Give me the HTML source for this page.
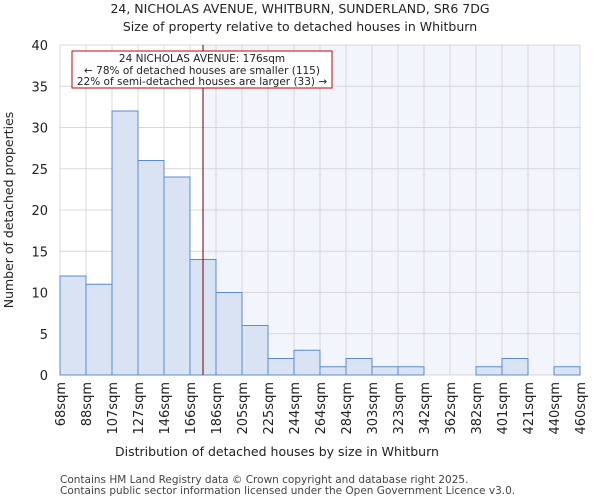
<!DOCTYPE html>
<html><head><meta charset="utf-8"><style>
body{margin:0;background:#fff;font-family:"DejaVu Sans","Liberation Sans",sans-serif}
</style></head><body>
<svg width="600" height="500" xmlns="http://www.w3.org/2000/svg" font-family="DejaVu Sans, Liberation Sans, sans-serif">
<text x="300" y="13" text-anchor="middle" font-size="12.5" fill="#222">24, NICHOLAS AVENUE, WHITBURN, SUNDERLAND, SR6 7DG</text>
<text x="300" y="31" text-anchor="middle" font-size="12.5" fill="#222">Size of property relative to detached houses in Whitburn</text>
<g id="plot"></g>
<text x="277" y="456" text-anchor="middle" font-size="12.5" fill="#222">Distribution of detached houses by size in Whitburn</text>
<text transform="translate(13,210) rotate(-90)" text-anchor="middle" font-size="12.5" fill="#222">Number of detached properties</text>
<text x="60" y="483" font-size="10.5" fill="#444">Contains HM Land Registry data © Crown copyright and database right 2025.</text>
<text x="60" y="494" font-size="10.5" fill="#444">Contains public sector information licensed under the Open Government Licence v3.0.</text>
</svg>
<script>
const categories=["68sqm","88sqm","107sqm","127sqm","146sqm","166sqm","186sqm","205sqm","225sqm","244sqm","264sqm","284sqm","303sqm","323sqm","342sqm","362sqm","382sqm","401sqm","421sqm","440sqm","460sqm"];
const counts=[12,11,32,26,24,14,10,6,2,3,1,2,1,1,0,0,1,2,0,1];
const yTicks=[0,5,10,15,20,25,30,35,40];
const markerBin=5.5;
const NS="http://www.w3.org/2000/svg";
const g=document.getElementById('plot');
const X0=60,X1=580,Y0=375,Y1=45,YMAX=40;
const bw=(X1-X0)/counts.length;
const xs=i=>X0+i*bw;
const ys=v=>Y0-(v/YMAX)*(Y0-Y1);
function mk(t,a){const e=document.createElementNS(NS,t);for(const k in a)e.setAttribute(k,a[k]);g.appendChild(e);return e;}
const mx=xs(markerBin);
let e=mk('rect',{x:mx,y:Y1,width:X1-mx,height:Y0-Y1,fill:'#f3f5fc'});


for(let i=0;i<=counts.length;i++){e=mk('line',{x1:xs(i),x2:xs(i),y1:Y1,y2:Y0,stroke:'#d8d8d8','stroke-width':1});

}
yTicks.forEach(t=>{e=mk('line',{x1:X0,x2:X1,y1:ys(t),y2:ys(t),stroke:'#d8d8d8','stroke-width':1});


e=mk('text',{x:X0-12,y:ys(t)+5,'text-anchor':'end','font-size':13,fill:'#222'});e.textContent=t;

});
counts.forEach((c,i)=>{if(c<=0)return;e=mk('rect',{x:xs(i),y:ys(c),width:bw,height:Y0-ys(c),fill:'#dae3f4',stroke:'#5b8bd0','stroke-width':1});

});
categories.forEach((c,i)=>{const x=xs(i);e=mk('text',{transform:`translate(${x+5},382) rotate(-90)`,'text-anchor':'end','font-size':13,fill:'#222'});e.textContent=c;

});
e=mk('line',{x1:mx,x2:mx,y1:Y1,y2:Y0,stroke:'#660000','stroke-width':1});


e=mk('rect',{x:72,y:51,width:260,height:37,fill:'#fff',stroke:'#cc0000','stroke-width':1});


[["24 NICHOLAS AVENUE: 176sqm",62],["← 78% of detached houses are smaller (115)",74],["22% of semi-detached houses are larger (33) →",85]].forEach(([s,y])=>{e=mk('text',{x:202,y:y,'text-anchor':'middle','font-size':10.5,fill:'#222'});e.textContent=s;

});
</script>
</body></html>
